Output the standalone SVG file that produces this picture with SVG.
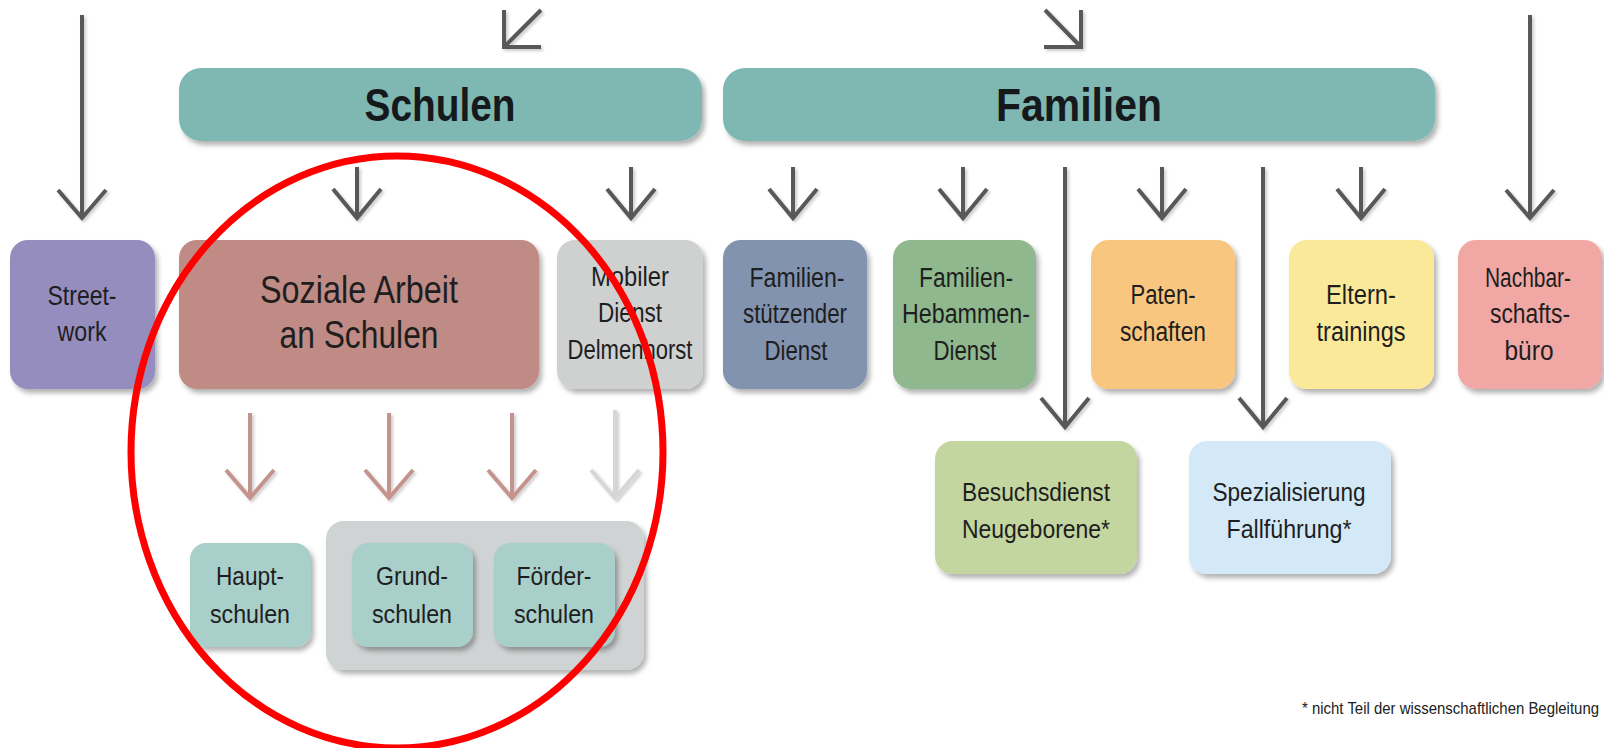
<svg xmlns="http://www.w3.org/2000/svg" width="1604" height="748" viewBox="0 0 1604 748">
<defs>
<filter id="sh" x="-10%" y="-10%" width="125%" height="130%">
<feDropShadow dx="3" dy="4" stdDeviation="2.5" flood-color="#000" flood-opacity="0.3"/>
</filter>
<filter id="ash" x="-30%" y="-10%" width="160%" height="130%">
<feDropShadow dx="2" dy="2" stdDeviation="1.5" flood-color="#000" flood-opacity="0.2"/>
</filter>
</defs>
<style>
.t{font-family:"Liberation Sans Narrow","Liberation Sans",Arial,sans-serif;fill:#1e1e1e;text-anchor:middle;font-size:27px}
.s{font-size:26px}
.big{font-size:38px}
.title{font-family:"Liberation Sans Narrow","Liberation Sans",Arial,sans-serif;font-weight:bold;font-size:47px;fill:#15191c;text-anchor:middle}
.foot{font-family:"Liberation Sans Narrow","Liberation Sans",Arial,sans-serif;font-size:17px;fill:#222;text-anchor:start}
.ar{fill:none;stroke:#585858;stroke-width:4;stroke-linecap:butt;stroke-linejoin:miter}
.pk{fill:none;stroke:#c4938e;stroke-width:4}
.lg{fill:none;stroke:#d6d6d6;stroke-width:4}
.box{filter:url(#sh)}
</style>
<rect width="1604" height="748" fill="#ffffff"/>

<g id="connectors" filter="url(#ash)">
<path class="ar" d="M541,10 L504,47 M504,10 L504,47 L541,47"/>
<path class="ar" d="M1045,10 L1081,47 M1081,10 L1081,47 L1044,47"/>
<path class="ar" d="M82,15 V218 M58,190 L82,218 L106,190"/>
<path class="ar" d="M1530,15 V218 M1506,190 L1530,218 L1554,190"/>
<path class="ar" d="M357,167 V218 M333,189 L357,218 L381,189"/>
<path class="ar" d="M631,167 V218 M607,189 L631,218 L655,189"/>
<path class="ar" d="M793,167 V218 M769,189 L793,218 L817,189"/>
<path class="ar" d="M963,167 V218 M939,189 L963,218 L987,189"/>
<path class="ar" d="M1162,167 V218 M1138,189 L1162,218 L1186,189"/>
<path class="ar" d="M1361,167 V218 M1337,189 L1361,218 L1385,189"/>
<path class="ar" d="M1065,167 V427 M1041,398 L1065,427 L1089,398"/>
<path class="ar" d="M1263,167 V427 M1239,398 L1263,427 L1287,398"/>
<path class="pk" d="M250,413 V498 M226,470 L250,498 L274,470"/>
<path class="pk" d="M389,413 V498 M365,470 L389,498 L413,470"/>
<path class="pk" d="M512,413 V498 M488,470 L512,498 L536,470"/>
<path class="lg" d="M615,410 V498 M591,470 L615,498 L639,470"/>
</g>

<g id="schulen">
<rect class="box" x="179" y="68" width="523" height="73" rx="22" fill="#7fb8b3"/>
<text class="title" x="440" y="121" textLength="151" lengthAdjust="spacingAndGlyphs">Schulen</text>
</g>
<g id="familien">
<rect class="box" x="723" y="68" width="712" height="73" rx="22" fill="#7fb8b3"/>
<text class="title" x="1079" y="121" textLength="166" lengthAdjust="spacingAndGlyphs">Familien</text>
</g>

<g id="streetwork">
<rect class="box" x="10" y="240" width="145" height="149" rx="18" fill="#968dbf"/>
<text class="t" x="82" y="305" textLength="69" lengthAdjust="spacingAndGlyphs">Street-</text>
<text class="t" x="82" y="341" textLength="49" lengthAdjust="spacingAndGlyphs">work</text>
</g>
<g id="soziale-arbeit">
<rect class="box" x="179" y="240" width="360" height="149" rx="18" fill="#c08b85"/>
<text class="t big" x="359" y="303" textLength="198" lengthAdjust="spacingAndGlyphs">Soziale Arbeit</text>
<text class="t big" x="359" y="348" textLength="159" lengthAdjust="spacingAndGlyphs">an Schulen</text>
</g>
<g id="mobiler-dienst">
<rect class="box" x="557" y="240" width="146" height="149" rx="18" fill="#cfd1d1"/>
<text class="t" x="630" y="286" textLength="78" lengthAdjust="spacingAndGlyphs">Mobiler</text>
<text class="t" x="630" y="322" textLength="64" lengthAdjust="spacingAndGlyphs">Dienst</text>
<text class="t" x="630" y="359" textLength="125" lengthAdjust="spacingAndGlyphs">Delmenhorst</text>
</g>
<g id="familienstuetzender-dienst">
<rect class="box" x="723" y="240" width="144" height="149" rx="18" fill="#8293b0"/>
<text class="t" x="797" y="287" textLength="95" lengthAdjust="spacingAndGlyphs">Familien-</text>
<text class="t" x="795" y="323" textLength="104" lengthAdjust="spacingAndGlyphs">stützender</text>
<text class="t" x="796" y="360" textLength="63" lengthAdjust="spacingAndGlyphs">Dienst</text>
</g>
<g id="familien-hebammen-dienst">
<rect class="box" x="893" y="240" width="143" height="149" rx="18" fill="#8fb88e"/>
<text class="t" x="966" y="287" textLength="94" lengthAdjust="spacingAndGlyphs">Familien-</text>
<text class="t" x="966" y="323" textLength="128" lengthAdjust="spacingAndGlyphs">Hebammen-</text>
<text class="t" x="965" y="360" textLength="63" lengthAdjust="spacingAndGlyphs">Dienst</text>
</g>
<g id="patenschaften">
<rect class="box" x="1091" y="240" width="144" height="149" rx="18" fill="#f9c680"/>
<text class="t" x="1163" y="304" textLength="65" lengthAdjust="spacingAndGlyphs">Paten-</text>
<text class="t" x="1163" y="341" textLength="86" lengthAdjust="spacingAndGlyphs">schaften</text>
</g>
<g id="elterntrainings">
<rect class="box" x="1289" y="240" width="145" height="149" rx="18" fill="#fbe99a"/>
<text class="t" x="1361" y="304" textLength="70" lengthAdjust="spacingAndGlyphs">Eltern-</text>
<text class="t" x="1361" y="341" textLength="89" lengthAdjust="spacingAndGlyphs">trainings</text>
</g>
<g id="nachbarschaftsbuero">
<rect class="box" x="1458" y="240" width="144" height="149" rx="18" fill="#f1a8a5"/>
<text class="t" x="1528" y="287" textLength="86" lengthAdjust="spacingAndGlyphs">Nachbar-</text>
<text class="t" x="1530" y="323" textLength="80" lengthAdjust="spacingAndGlyphs">schafts-</text>
<text class="t" x="1529" y="360" textLength="49" lengthAdjust="spacingAndGlyphs">büro</text>
</g>

<g id="besuchsdienst">
<rect class="box" x="935" y="441" width="202" height="133" rx="18" fill="#c3d6a0"/>
<text class="t s" x="1036" y="501" textLength="148" lengthAdjust="spacingAndGlyphs">Besuchsdienst</text>
<text class="t s" x="1036" y="538" textLength="148" lengthAdjust="spacingAndGlyphs">Neugeborene*</text>
</g>
<g id="spezialisierung">
<rect class="box" x="1189" y="441" width="202" height="133" rx="18" fill="#d3e9f7"/>
<text class="t s" x="1289" y="501" textLength="153" lengthAdjust="spacingAndGlyphs">Spezialisierung</text>
<text class="t s" x="1289" y="538" textLength="125" lengthAdjust="spacingAndGlyphs">Fallführung*</text>
</g>

<g id="hauptschulen">
<rect class="box" x="190" y="543" width="121" height="104" rx="16" fill="#a9cfcb"/>
<text class="t s" x="250" y="585" textLength="68" lengthAdjust="spacingAndGlyphs">Haupt-</text>
<text class="t s" x="250" y="623" textLength="80" lengthAdjust="spacingAndGlyphs">schulen</text>
</g>
<g id="gruppe-grund-foerder">
<rect class="box" x="326" y="521" width="318" height="149" rx="18" fill="#d0d3d3"/>
</g>
<g id="grundschulen">
<rect class="box" x="352" y="543" width="121" height="104" rx="16" fill="#a9cfcb"/>
<text class="t s" x="412" y="585" textLength="72" lengthAdjust="spacingAndGlyphs">Grund-</text>
<text class="t s" x="412" y="623" textLength="80" lengthAdjust="spacingAndGlyphs">schulen</text>
</g>
<g id="foerderschulen">
<rect class="box" x="494" y="543" width="121" height="104" rx="16" fill="#a9cfcb"/>
<text class="t s" x="554" y="585" textLength="75" lengthAdjust="spacingAndGlyphs">Förder-</text>
<text class="t s" x="554" y="623" textLength="80" lengthAdjust="spacingAndGlyphs">schulen</text>
</g>

<text class="foot" x="1302" y="714" textLength="297" lengthAdjust="spacingAndGlyphs">* nicht Teil der wissenschaftlichen Begleitung</text>

<ellipse cx="397" cy="452" rx="266" ry="296" fill="none" stroke="#ff0000" stroke-width="7"/>
</svg>
